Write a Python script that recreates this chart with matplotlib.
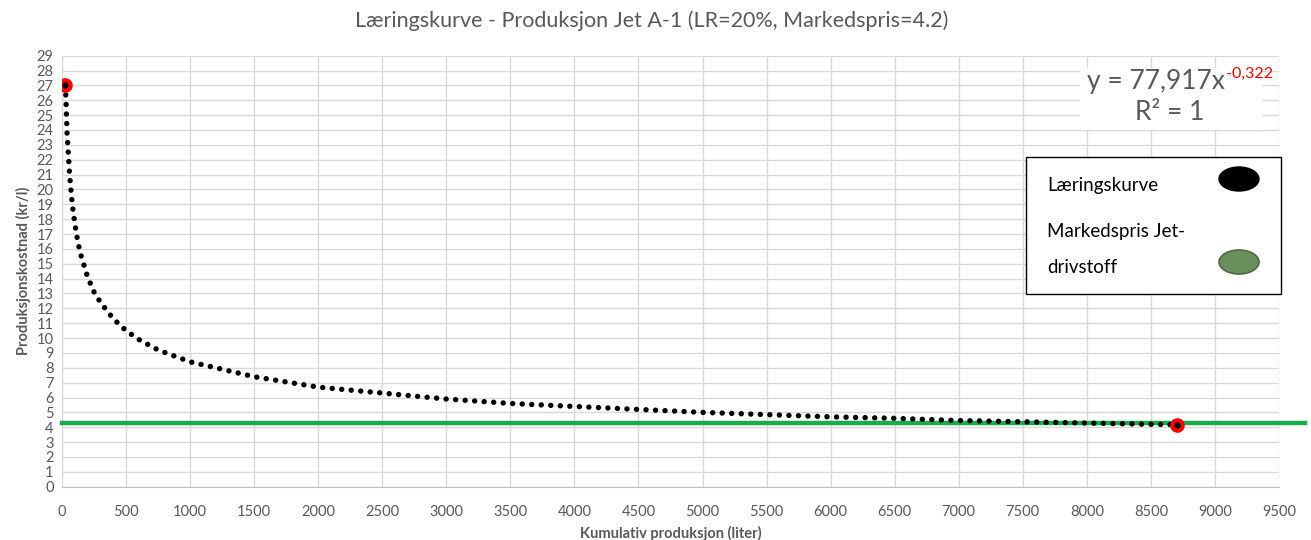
import matplotlib.pyplot as plt
from matplotlib.patches import Rectangle, Ellipse

plt.rcParams['font.family'] = ['Lato', 'DejaVu Sans']

# kumulativ produksjon (liter) og kostnad (kr/l), lest av grafen
prod = [27, 40, 60, 80, 100, 125, 150, 200, 250, 300, 400, 500, 600, 750,
        1000, 1250, 1500, 2000, 2500, 3000, 3500, 4000, 4500, 5000, 5500,
        6000, 6500, 7000, 7500, 8000, 8500, 8700]
kost = [27.0, 23.7, 20.9, 19.0, 17.7, 16.4, 15.5, 14.1, 13.1, 12.4, 11.3,
        10.5, 9.9, 9.2, 8.4, 7.9, 7.4, 6.7, 6.3, 5.9, 5.6, 5.4, 5.2, 5.0,
        4.85, 4.7, 4.6, 4.45, 4.37, 4.28, 4.2, 4.17]
ende_x = [27, 8700]
ende_y = [27.0, 4.17]
markedspris = 4.3
xlinje = [0, 9700]

grey = '#595959'
W, H = 1311, 540

fig = plt.figure(figsize=(13.11, 5.4), dpi=100)
ax = fig.add_axes([0.0473, 0.0987, 0.9283, 0.7982])

ax.plot(xlinje, [markedspris, markedspris], color='#1aab4a', lw=3.2,
        clip_on=False, zorder=3)
ax.plot(prod, kost, color='black', lw=3.9, linestyle=(0, (0.01, 1.75)),
        dash_capstyle='round', zorder=4)
ax.plot(ende_x, ende_y, 'o', color='red', ms=9.5, zorder=5)
ax.plot(ende_x, ende_y, 'o', color='black', ms=3.5, zorder=6)

ax.set_xlim(0, 9500)
ax.set_ylim(0, 29)
ax.set_xticks(range(0, 9501, 500))
ax.set_yticks(range(0, 30))
ax.grid(True, color='#d9d9d9', lw=1)
ax.set_axisbelow(True)
for s in ['top', 'right']:
    ax.spines[s].set_visible(False)
ax.spines['left'].set_color('#d9d9d9')
ax.spines['bottom'].set_color('#bfbfbf')
ax.tick_params(length=0, colors=grey, labelsize=10.5)
ax.tick_params(axis='x', pad=13)
ax.tick_params(axis='y', pad=6)

ax.set_xlabel('Kumulativ produksjon (liter)', color=grey, fontsize=10.5,
              fontweight='bold', labelpad=5)
ax.set_ylabel('Produksjonskostnad (kr/l)', color=grey, fontsize=10.5,
              fontweight='bold', labelpad=4)
fig.text(0.497, 0.962, 'Læringskurve - Produksjon Jet A-1 (LR=20%, Markedspris=4.2)',
         ha='center', va='center', color=grey, fontsize=15.5)

# likningsboks
fig.patches.append(Rectangle((1080 / W, 1 - 130 / H), 182 / W, 62 / H,
                             transform=fig.transFigure, facecolor='white',
                             edgecolor='none', zorder=5))
t = fig.text(1087 / W, 1 - 82 / H, 'y = 77,917x', ha='left', va='center',
             color=grey, fontsize=19, zorder=6)
fig.canvas.draw()
bb = t.get_window_extent()
fig.text(bb.x1 / W + 0.001, 1 - 74 / H, '-0,322', ha='left', va='center',
         color='red', fontsize=11.5, zorder=6)
fig.text(1170 / W, 1 - 112 / H, 'R² = 1', ha='center', va='center',
         color=grey, fontsize=19, zorder=6)

# forklaring
fig.patches.append(Rectangle((1026 / W, 1 - 294 / H), 255 / W, 137 / H,
                             transform=fig.transFigure, facecolor='white',
                             edgecolor='black', lw=1, zorder=5))
fig.text(1047 / W, 1 - 186 / H, 'Læringskurve', ha='left', va='center',
         fontsize=13.5, zorder=6)
fig.text(1047 / W, 1 - 232 / H, 'Markedspris Jet-', ha='left', va='center',
         fontsize=13.5, zorder=6)
fig.text(1047 / W, 1 - 268 / H, 'drivstoff', ha='left', va='center',
         fontsize=13.5, zorder=6)
fig.patches.append(Ellipse((1239 / W, 1 - 179 / H), 40 / W, 24 / H,
                           transform=fig.transFigure, facecolor='black',
                           edgecolor='black', zorder=6))
fig.patches.append(Ellipse((1239 / W, 1 - 262 / H), 40 / W, 24 / H,
                           transform=fig.transFigure, facecolor='#6b8f5c',
                           edgecolor='#4e6b42', lw=1.2, zorder=6))

fig.savefig('out.png', dpi=100)
